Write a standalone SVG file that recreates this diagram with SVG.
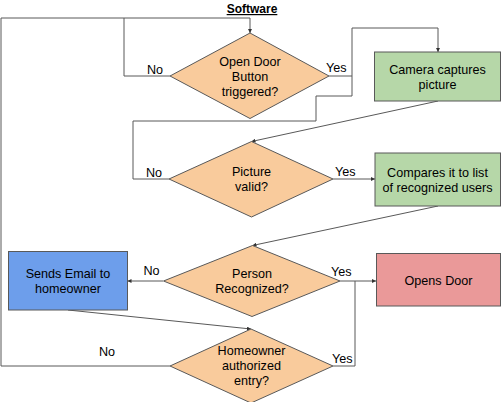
<svg xmlns="http://www.w3.org/2000/svg" width="502" height="402" viewBox="0 0 502 402">
<style>
text{font-family:"Liberation Sans",Arial,sans-serif;font-size:12.6px;fill:#000;text-anchor:middle}
.lbl{text-anchor:start}
.dia{fill:#f9cb9c;stroke:#595959;stroke-width:1}
.box{stroke:#595959;stroke-width:1}
.c{fill:none;stroke:#595959;stroke-width:1}
</style>
<defs>
<marker id="ah" viewBox="0 0 10 10" refX="10" refY="5" markerWidth="4" markerHeight="4" orient="auto" markerUnits="userSpaceOnUse">
<path d="M0,0 L10,5 L0,10 z" fill="#333"/>
</marker>
</defs>
<rect width="502" height="402" fill="#fff"/>
<text x="252" y="13" font-weight="bold" font-size="12" text-decoration="underline" style="font-size:12px;font-weight:bold">Software</text>
<g id="connectors">
<path class="c" d="M170,366 H1 V18 H250 V33" marker-end="url(#ah)"/>
<path class="c" d="M170,76 H124 V18"/>
<path class="c" d="M329,76 H352 V28 H438 V52" marker-end="url(#ah)"/>
<path class="c" d="M169,179 H133 V121 H316 V96 H352 V76"/>
<path class="c" d="M438,101 L251.5,141.5" marker-end="url(#ah)"/>
<path class="c" d="M333,179 H375" marker-end="url(#ah)"/>
<path class="c" d="M438,206 L252.5,245.5" marker-end="url(#ah)"/>
<path class="c" d="M163,281 H127.5" marker-end="url(#ah)"/>
<path class="c" d="M340,281 H376" marker-end="url(#ah)"/>
<path class="c" d="M333,366 H355 V281"/>
<path class="c" d="M68,310 L251,329" marker-end="url(#ah)"/>
<text class="lbl" x="147" y="74">No</text>
<text class="lbl" x="326" y="72">Yes</text>
<text class="lbl" x="146" y="177">No</text>
<text class="lbl" x="335" y="176">Yes</text>
<text class="lbl" x="143.5" y="275">No</text>
<text class="lbl" x="331" y="276">Yes</text>
<text class="lbl" x="99" y="355.5">No</text>
<text class="lbl" x="332" y="363">Yes</text>
</g>
<g id="n-open-door-button">
<polygon class="dia" points="250,33 329,76 250,118.5 170,76"/>
<text x="250" y="66">Open Door</text>
<text x="250" y="81">Button</text>
<text x="250" y="96">triggered?</text>
</g>
<g id="n-camera">
<rect class="box" x="374.5" y="52" width="126" height="49" fill="#b6d7a8"/>
<text x="437.5" y="74">Camera captures</text>
<text x="437.5" y="89">picture</text>
</g>
<g id="n-picture-valid">
<polygon class="dia" points="251.5,141.5 333,179 251.5,217 169,179"/>
<text x="251.5" y="176">Picture</text>
<text x="251.5" y="191">valid?</text>
</g>
<g id="n-compares">
<rect class="box" x="375" y="153" width="125.5" height="53" fill="#b6d7a8"/>
<text x="437.5" y="176.5">Compares it to list</text>
<text x="437.5" y="191.5">of recognized users</text>
</g>
<g id="n-person-recognized">
<polygon class="dia" points="252.5,245.5 340,281 252,316.5 163.5,281"/>
<text x="252" y="278">Person</text>
<text x="252" y="293">Recognized?</text>
</g>
<g id="n-sends-email">
<rect class="box" x="8.5" y="251.5" width="119" height="58.5" fill="#6d9eeb"/>
<text x="68" y="278">Sends Email to</text>
<text x="68" y="293">homeowner</text>
</g>
<g id="n-opens-door">
<rect class="box" x="376.5" y="253.5" width="124" height="52.5" fill="#ea9999"/>
<text x="438.5" y="284.5">Opens Door</text>
</g>
<g id="n-homeowner-authorized">
<polygon class="dia" points="251,329 333,366 251,403 170,366"/>
<text x="251.5" y="355">Homeowner</text>
<text x="251.5" y="370">authorized</text>
<text x="251.5" y="385">entry?</text>
</g>
</svg>
